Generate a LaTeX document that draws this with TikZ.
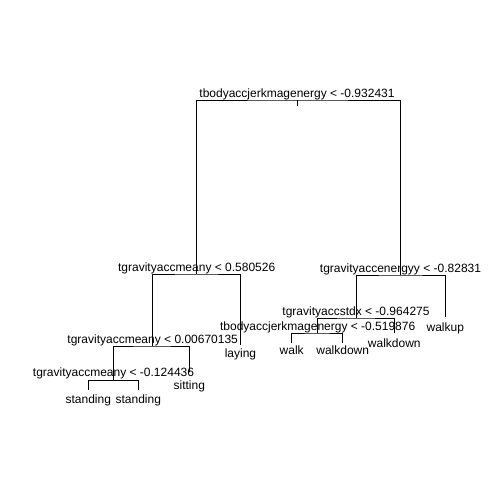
\documentclass[tikz,border=0pt]{standalone}
\usepackage{fontspec}
\setmainfont{Liberation Sans}
\usepackage{tikz}
\tikzstyle{splitLabel} = [anchor=base, inner sep=0pt, font=\fontsize{12}{14}\selectfont]
\tikzstyle{leafLabel} = [anchor=base, inner sep=0pt, font=\fontsize{12}{14}\selectfont]
\tikzstyle{branch} = [line width=1pt]

\begin{document}
\begin{tikzpicture}[x=1pt,y=-1pt]
			\useasboundingbox (0,0) rectangle (504,504);

			% split points of the tree
			\coordinate (r) at (297,100);
			\coordinate (t) at (297,106);
			\coordinate (rl) at (196.7,274);
			\coordinate (rr) at (400.5,275);
			\coordinate (rll) at (152.7,346);
			\coordinate (rlr) at (240.5,345);
			\coordinate (rlll) at (113.5,380.5);
			\coordinate (rllr) at (189.3,372);
			\coordinate (rllll) at (88.3,390);
			\coordinate (rlllr) at (138.3,390);
			\coordinate (rrl) at (356,318);
			\coordinate (rrr) at (445.3,317);
			\coordinate (rrll) at (317.7,333);
			\coordinate (rrlr) at (394.3,333);
			\coordinate (rrlll) at (291.7,343);
			\coordinate (rrllr) at (342.7,343);

			% branches
			\draw[branch] (r) -- (t);
			\draw[branch] (rl) |- (r) -| (rr);
			\draw[branch] (rll) |- (rl) -| (rlr);
			\draw[branch] (rlll) |- (rll) -| (rllr);
			\draw[branch] (rllll) |- (rlll) -| (rlllr);
			\draw[branch] (rrl) |- (rr) -| (rrr);
			\draw[branch] (rrll) |- (rrl) -| (rrlr);
			\draw[branch] (rrlll) |- (rrll) -| (rrllr);

			% split labels
			\node[splitLabel] (a) at ([yshift=3pt]r) {tbodyaccjerkmagenergy < -0.932431};
			\node[splitLabel] (b) at ([yshift=3pt]rl) {tgravityaccmeany < 0.580526};
			\node[splitLabel] (c) at ([yshift=3pt]rr) {tgravityaccenergyy < -0.82831};
			\node[splitLabel] (d) at ([yshift=3pt]rll) {tgravityaccmeany < 0.00670135};
			\node[splitLabel] (e) at ([yshift=4pt]rlll) {tgravityaccmeany < -0.124436};
			\node[splitLabel] (f) at ([yshift=3pt]rrl) {tgravityaccstdx < -0.964275};
			\node[splitLabel] (g) at ([yshift=3pt]rrll) {tbodyaccjerkmagenergy < -0.519876};

			% leaf labels
			\node[leafLabel] (la) at ([yshift=-12pt]rlr) {laying};
			\node[leafLabel] (si) at ([yshift=-17pt]rllr) {sitting};
			\node[leafLabel] (st1) at ([yshift=-13pt]rllll) {standing};
			\node[leafLabel] (st2) at ([yshift=-13pt]rlllr) {standing};
			\node[leafLabel] (wu) at ([yshift=-14pt]rrr) {walkup};
			\node[leafLabel] (wd1) at ([yshift=-14pt]rrlr) {walkdown};
			\node[leafLabel] (wa) at ([yshift=-11pt]rrlll) {walk};
			\node[leafLabel] (wd2) at ([yshift=-11pt]rrllr) {walkdown};
		\end{tikzpicture}
\end{document}
